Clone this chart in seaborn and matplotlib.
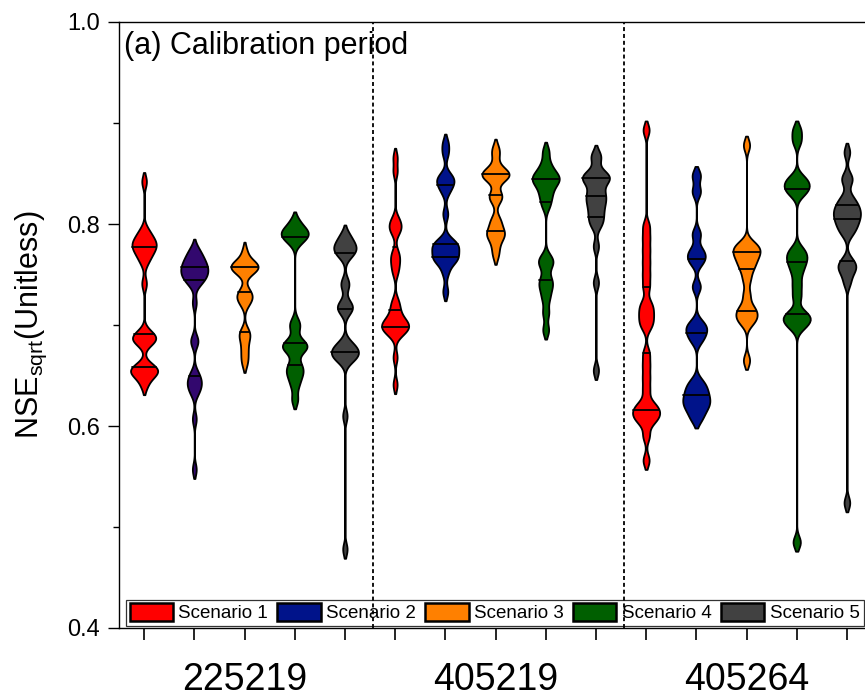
import numpy as np
import pandas as pd
import matplotlib
matplotlib.use("Agg")
import matplotlib.pyplot as plt
from matplotlib.collections import LineCollection
from matplotlib.patches import Patch
import seaborn as sns

# ---------------- data ----------------
stations = ["225219", "405219", "405264"]
scenarios = ["Scenario 1", "Scenario 2", "Scenario 3", "Scenario 4", "Scenario 5"]
scenario_colors = ["#ff0000", "#00138a", "#ff8000", "#005f00", "#414141"]
purple_225219_s2 = "#32086e"

# NSE_sqrt samples, station 225219
nse_225219_s1 = [0.640, 0.648, 0.651, 0.653, 0.655, 0.656, 0.658, 0.660, 0.682, 0.684,
                 0.686, 0.688, 0.690, 0.693, 0.741, 0.762, 0.768, 0.772, 0.775, 0.778,
                 0.780, 0.782, 0.785, 0.789, 0.794, 0.842]
nse_225219_s2 = [0.557, 0.607, 0.632, 0.637, 0.641, 0.644, 0.648, 0.653, 0.682, 0.686,
                 0.722, 0.740, 0.743, 0.746, 0.748, 0.750, 0.752, 0.754, 0.756, 0.758,
                 0.760, 0.762, 0.765, 0.768, 0.771, 0.776]
nse_225219_s3 = [0.662, 0.670, 0.678, 0.686, 0.691, 0.694, 0.721, 0.725, 0.728, 0.731,
                 0.734, 0.751, 0.754, 0.756, 0.757, 0.758, 0.759, 0.761, 0.763, 0.773]
nse_225219_s4 = [0.626, 0.640, 0.648, 0.653, 0.657, 0.662, 0.674, 0.677, 0.679, 0.681,
                 0.684, 0.697, 0.703, 0.782, 0.786, 0.789, 0.791, 0.793, 0.796, 0.803]
nse_225219_s5 = [0.478, 0.610, 0.664, 0.667, 0.669, 0.671, 0.673, 0.675, 0.677, 0.680,
                 0.683, 0.713, 0.716, 0.719, 0.722, 0.738, 0.743, 0.768, 0.771, 0.774,
                 0.776, 0.778, 0.781, 0.785, 0.790]

# station 405219
nse_405219_s1 = [0.641, 0.668, 0.690, 0.693, 0.695, 0.697, 0.699, 0.700, 0.702, 0.704,
                 0.707, 0.712, 0.718, 0.724, 0.752, 0.760, 0.766, 0.772, 0.792, 0.796,
                 0.800, 0.805, 0.852, 0.866]
nse_405219_s2 = [0.733, 0.752, 0.762, 0.764, 0.766, 0.768, 0.771, 0.775, 0.778, 0.779,
                 0.781, 0.784, 0.810, 0.832, 0.838, 0.842, 0.845, 0.848, 0.870, 0.880]
nse_405219_s3 = [0.769, 0.778, 0.786, 0.789, 0.791, 0.794, 0.801, 0.805, 0.824, 0.827,
                 0.830, 0.844, 0.846, 0.848, 0.849, 0.850, 0.852, 0.856, 0.868, 0.875]
nse_405219_s4 = [0.695, 0.712, 0.726, 0.735, 0.741, 0.746, 0.758, 0.763, 0.767, 0.818,
                 0.826, 0.832, 0.838, 0.842, 0.844, 0.846, 0.849, 0.853, 0.860, 0.872]
nse_405219_s5 = [0.655, 0.742, 0.778, 0.798, 0.803, 0.808, 0.813, 0.818, 0.822, 0.826,
                 0.829, 0.833, 0.840, 0.843, 0.845, 0.847, 0.849, 0.851, 0.864, 0.869]

# station 405264
nse_405264_s1 = [0.566, 0.590, 0.603, 0.607, 0.610, 0.613, 0.616, 0.619, 0.623, 0.636,
                 0.648, 0.660, 0.672, 0.698, 0.704, 0.710, 0.716, 0.722, 0.738, 0.750,
                 0.762, 0.774, 0.786, 0.798, 0.893]
nse_405264_s2 = [0.607, 0.615, 0.620, 0.624, 0.628, 0.633, 0.638, 0.644, 0.685, 0.692,
                 0.697, 0.702, 0.738, 0.762, 0.768, 0.774, 0.790, 0.832, 0.848]
nse_405264_s3 = [0.665, 0.702, 0.706, 0.710, 0.714, 0.718, 0.730, 0.745, 0.755, 0.760,
                 0.765, 0.769, 0.772, 0.775, 0.778, 0.781, 0.878]
nse_405264_s4 = [0.485, 0.698, 0.702, 0.706, 0.709, 0.712, 0.728, 0.740, 0.752, 0.760,
                 0.765, 0.770, 0.775, 0.830, 0.834, 0.838, 0.842, 0.846, 0.882, 0.893]
nse_405264_s5 = [0.524, 0.742, 0.752, 0.756, 0.760, 0.764, 0.790, 0.795, 0.799, 0.803,
                 0.806, 0.809, 0.812, 0.815, 0.818, 0.822, 0.827, 0.842, 0.847, 0.871]

samples = {
    "225219": [nse_225219_s1, nse_225219_s2, nse_225219_s3, nse_225219_s4, nse_225219_s5],
    "405219": [nse_405219_s1, nse_405219_s2, nse_405219_s3, nse_405219_s4, nse_405219_s5],
    "405264": [nse_405264_s1, nse_405264_s2, nse_405264_s3, nse_405264_s4, nse_405264_s5],
}

y_major = [0.4, 0.6, 0.8, 1.0]
y_minor = [0.5, 0.7, 0.9]

# ---------------- long table ----------------
rows = []
slots = []
palette = {}
for st in stations:
    for k, sc in enumerate(scenarios):
        slot = f"{st}|{sc}"
        slots.append(slot)
        palette[slot] = purple_225219_s2 if (st == "225219" and k == 1) else scenario_colors[k]
        for v in samples[st][k]:
            rows.append({"slot": slot, "station": st, "scenario": sc, "nse": v})
df = pd.DataFrame(rows)

KDE_BW = 0.006


def fixed_bw(kde):
    return KDE_BW / np.std(kde.dataset, ddof=1)


# ---------------- style ----------------
sns.set_style("ticks")
plt.rcParams["font.family"] = ["Liberation Sans", "DejaVu Sans"]
plt.rcParams["mathtext.fontset"] = "custom"
plt.rcParams["mathtext.rm"] = "Liberation Sans"
plt.rcParams["mathtext.default"] = "regular"
for key in ("text.color", "axes.labelcolor", "xtick.color", "ytick.color", "axes.edgecolor"):
    plt.rcParams[key] = "black"

fig = plt.figure(figsize=(8.65, 6.98), dpi=100)
ax = fig.add_axes([119 / 865, 70 / 698, 753 / 865, 606 / 698])

sns.violinplot(
    data=df, x="slot", y="nse", hue="slot", order=slots, hue_order=slots,
    palette=palette, dodge=False, legend=False, density_norm="width",
    width=0.54, bw_method=fixed_bw, cut=1.5, gridsize=200, inner="quart",
    linewidth=1.3, linecolor="black", saturation=1, ax=ax,
)

# solid quartile lines; median drawn on the right half only
for coll in ax.collections:
    if isinstance(coll, LineCollection):
        coll.set_linestyle("solid")
        coll.set_color("black")
        coll.set_linewidth(1.2)
        segs = [np.array(s) for s in coll.get_segments()]
        if len(segs) == 3:
            mid = segs[1]
            mid[0, 0] = mid[:, 0].mean()
            coll.set_segments(segs)
for ln in ax.lines:
    ln.set_linestyle("solid")

# separators between stations
for xb in (4.55, 9.55):
    ax.axvline(xb, color="black", lw=1.3, ls=(0, (2.2, 1.6)), zorder=7)

ax.set_xlim(-0.5, 14.5)
ax.set_ylim(0.4, 1.0)

ax.set_yticks(y_major)
ax.set_yticklabels([f"{t:.1f}" for t in y_major])
ax.set_yticks(y_minor, minor=True)
ax.set_xticks(range(len(slots)))
xlabels = ["" for _ in slots]
for i, st in enumerate(stations):
    xlabels[i * 5 + 2] = st
ax.set_xticklabels(xlabels)

ax.tick_params(axis="y", which="major", length=8, width=1.0, direction="out",
               labelsize=17, pad=6)
ax.tick_params(axis="y", which="minor", length=4, width=1.0, direction="out")
ax.tick_params(axis="x", which="major", length=8.6, width=1.2, direction="out",
               labelsize=27, pad=16)

for side in ("left", "bottom", "top"):
    ax.spines[side].set_visible(True)
    ax.spines[side].set_linewidth(1.0)
    ax.spines[side].set_color("black")
ax.spines["right"].set_visible(False)

ax.set_xlabel("")
ax.set_ylabel(r"NSE$_{\mathregular{sqrt}}$(Unitless)", fontsize=22, labelpad=13)

ax.text(0.006, 0.985, "(a) Calibration period", transform=ax.transAxes,
        fontsize=22, va="top", ha="left")

handles = [Patch(facecolor=c, edgecolor="black", linewidth=1.8, label=s)
           for s, c in zip(scenarios, scenario_colors)]
leg = ax.legend(handles=handles, loc="lower left", bbox_to_anchor=(0.009, 0.003),
                ncol=5, fontsize=13.5, handlelength=2.3, handleheight=1.05,
                handletextpad=0.3, columnspacing=0.5, borderpad=0.2,
                borderaxespad=0, frameon=True, fancybox=False,
                edgecolor="#333333", framealpha=1)
leg.get_frame().set_linewidth(0.9)

fig.savefig("out.png", dpi=100)
